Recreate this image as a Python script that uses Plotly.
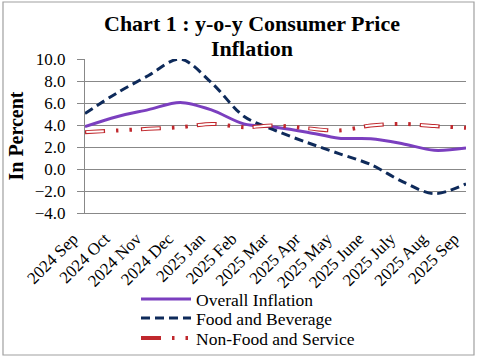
import plotly.graph_objects as go

months = ["2024 Sep", "2024 Oct", "2024 Nov", "2024 Dec", "2025 Jan", "2025 Feb",
          "2025 Mar", "2025 Apr", "2025 May", "2025 June", "2025 July", "2025 Aug", "2025 Sep"]
overall = [3.85, 4.75, 5.4, 6.05, 5.35, 4.1, 3.8, 3.35, 2.8, 2.75, 2.3, 1.7, 1.9]
food = [5.05, 6.9, 8.5, 10.0, 7.8, 4.8, 3.5, 2.4, 1.4, 0.4, -1.15, -2.25, -1.35]
nonfood = [3.35, 3.5, 3.65, 3.8, 4.1, 3.8, 3.95, 3.7, 3.5, 3.95, 4.1, 3.9, 3.75]
title_lines = ["<b>Chart 1 : y-o-y Consumer Price</b>", "<b>Inflation</b>"]

W, H = 478, 359
L, R, T, B = 85, 12, 59, 146
pw, ph = W - L - R, H - T - B

def px_x(p):
    return (p - L) / pw

def px_y(p):
    return (H - B - p) / ph

FONT = "Liberation Serif"
SM = 0.9

fig = go.Figure()
fig.add_trace(go.Scatter(x=months, y=overall, mode="lines", name="Overall Inflation",
                         legend="legend",
                         line=dict(color="#7B3FBF", width=3, shape="spline", smoothing=SM)))
fig.add_trace(go.Scatter(x=months, y=food, mode="lines", name="Food and Beverage",
                         legend="legend2",
                         line=dict(color="#0E2A5A", width=3, shape="spline", smoothing=SM,
                                   dash="9px,5px")))
# non-food: red outlined dash + dots, with white inner fill
fig.add_trace(go.Scatter(x=months, y=nonfood, mode="lines", name="Non-Food and Service",
                         legend="legend3",
                         line=dict(color="#C0282D", width=4, shape="spline", smoothing=SM,
                                   dash="20px,11px,2.5px,11px,2.5px,9px")))
fig.add_trace(go.Scatter(x=months, y=nonfood, mode="lines", showlegend=False, hoverinfo="skip",
                         line=dict(color="white", width=2, shape="spline", smoothing=SM,
                                   dash="0px,1.2px,17.6px,37.2px")))

fig.add_shape(type="rect", xref="paper", yref="paper",
              x0=px_x(3), x1=px_x(474), y0=px_y(355), y1=px_y(2),
              line=dict(color="#A0A0A0", width=1.2), fillcolor="rgba(0,0,0,0)", layer="below")

for txt, yc in zip(title_lines, [23.5, 48.5]):
    fig.add_annotation(text=txt, xref="paper", yref="paper", x=px_x(252), y=px_y(yc),
                       xanchor="center", yanchor="middle", showarrow=False,
                       font=dict(size=22, family=FONT, color="black"))

leg_common = dict(xanchor="left", yanchor="middle",
                  font=dict(size=17.5, family=FONT, color="black"),
                  bgcolor="rgba(0,0,0,0)", itemwidth=50)
fig.update_layout(
    width=W, height=H,
    margin=dict(l=L, r=R, t=T, b=B, autoexpand=False),
    paper_bgcolor="white", plot_bgcolor="white",
    font=dict(family=FONT, color="black"),
    showlegend=True,
    legend=dict(x=px_x(136), y=px_y(299), **leg_common),
    legend2=dict(x=px_x(136), y=px_y(318), **leg_common),
    legend3=dict(x=px_x(136), y=px_y(338), **leg_common),
)
fig.update_xaxes(type="category", tickangle=-45, tickfont=dict(size=17, family=FONT),
                 showgrid=False, showline=True, linecolor="#888888", linewidth=1,
                 ticks="", fixedrange=True, automargin=False,
                 ticklabelstandoff=8, ticklabelshift=-12)
fig.update_yaxes(range=[-4, 10], dtick=2, tickformat=".1f",
                 tickfont=dict(size=17, family=FONT),
                 showgrid=True, gridcolor="#888888", gridwidth=1,
                 showline=True, linecolor="#888888", linewidth=1,
                 ticks="outside", ticklen=7, tickcolor="#888888",
                 ticklabelstandoff=8, zeroline=False, automargin=False,
                 title=dict(text="<b>In Percent</b>", font=dict(size=20, family=FONT), standoff=5))

fig.write_html("out.html", config={"displayModeBar": False},
               post_script="document.body.style.margin='0';document.body.style.overflow='hidden';")
